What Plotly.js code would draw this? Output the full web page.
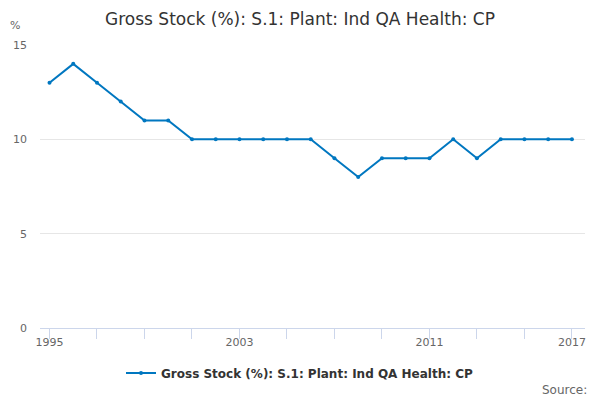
<!DOCTYPE html>
<html>
<head>
<meta charset="utf-8">
<script src="https://cdn.plot.ly/plotly-3.0.1.min.js"></script>
<style>html,body{margin:0;padding:0;background:#fff;}#chart{width:600px;height:400px;}</style>
</head>
<body>
<div id="chart"></div>
<script>
var years = [1995,1996,1997,1998,1999,2000,2001,2002,2003,2004,2005,2006,2007,2008,2009,2010,2011,2012,2013,2014,2015,2016,2017];
var values = [13,14,13,12,11,11,10,10,10,10,10,10,9,8,9,9,9,10,9,10,10,10,10];
var tickYears = [1995,1997,1999,2001,2003,2005,2007,2009,2011,2013,2015,2017];
var labelYears = [1995,2003,2011,2017];
var seriesName = 'Gross Stock (%): S.1: Plant: Ind QA Health: CP';

var tickText = tickYears.map(function(y){ return labelYears.indexOf(y) >= 0 ? String(y) : ''; });

var trace = {
  x: years, y: values, type: 'scatter', mode: 'lines+markers',
  name: seriesName,
  line: {color: '#0077c0', width: 2},
  marker: {color: '#0077c0', size: 4}
};

var layout = {
  width: 600, height: 400,
  paper_bgcolor: '#fff', plot_bgcolor: '#fff',
  margin: {l: 40, r: 15, t: 45, b: 72, autoexpand: false},
  font: {family: 'DejaVu Sans, sans-serif', color: '#666', size: 11},
  title: {text: 'Gross Stock (%): S.1: Plant: Ind QA Health: CP', font: {size: 17, color: '#333'}, x: 0.5, xanchor: 'center', y: 0.952, yanchor: 'middle'},
  xaxis: {
    range: [1994.6, 2017.55], tickvals: tickYears, ticktext: tickText,
    ticks: 'outside', ticklen: 10, tickcolor: '#ccd6eb', tickwidth: 1,
    ticklabelstandoff: -6,
    showgrid: false, zeroline: false, showline: true, linecolor: '#ccd6eb', linewidth: 1,
    tickfont: {size: 11, color: '#666'}, fixedrange: true
  },
  yaxis: {
    range: [0, 15], tickvals: [0,5,10,15], showgrid: true, gridcolor: '#e6e6e6', gridwidth: 1,
    zeroline: false, showline: false, ticks: '', ticklabelstandoff: 12,
    tickfont: {size: 11, color: '#666'}, fixedrange: true
  },
  showlegend: true,
  legend: {orientation: 'h', xref: 'container', yref: 'container', x: 0.5, xanchor: 'center', y: 0.0675, yanchor: 'middle',
    font: {size: 12, color: '#333', weight: 'bold'}},
  annotations: [
    {text: '%', xref: 'paper', yref: 'paper', x: -0.045, y: 1.04, xanchor: 'center', yanchor: 'bottom', showarrow: false, font: {size: 11, color: '#666'}},
    {text: 'Source:', xref: 'paper', yref: 'paper', x: 1.008, y: -0.219, xanchor: 'right', yanchor: 'middle', showarrow: false, font: {size: 12, color: '#666'}}
  ]
};

Plotly.newPlot('chart', [trace], layout, {displayModeBar: false, staticPlot: true});
</script>
</body>
</html>
